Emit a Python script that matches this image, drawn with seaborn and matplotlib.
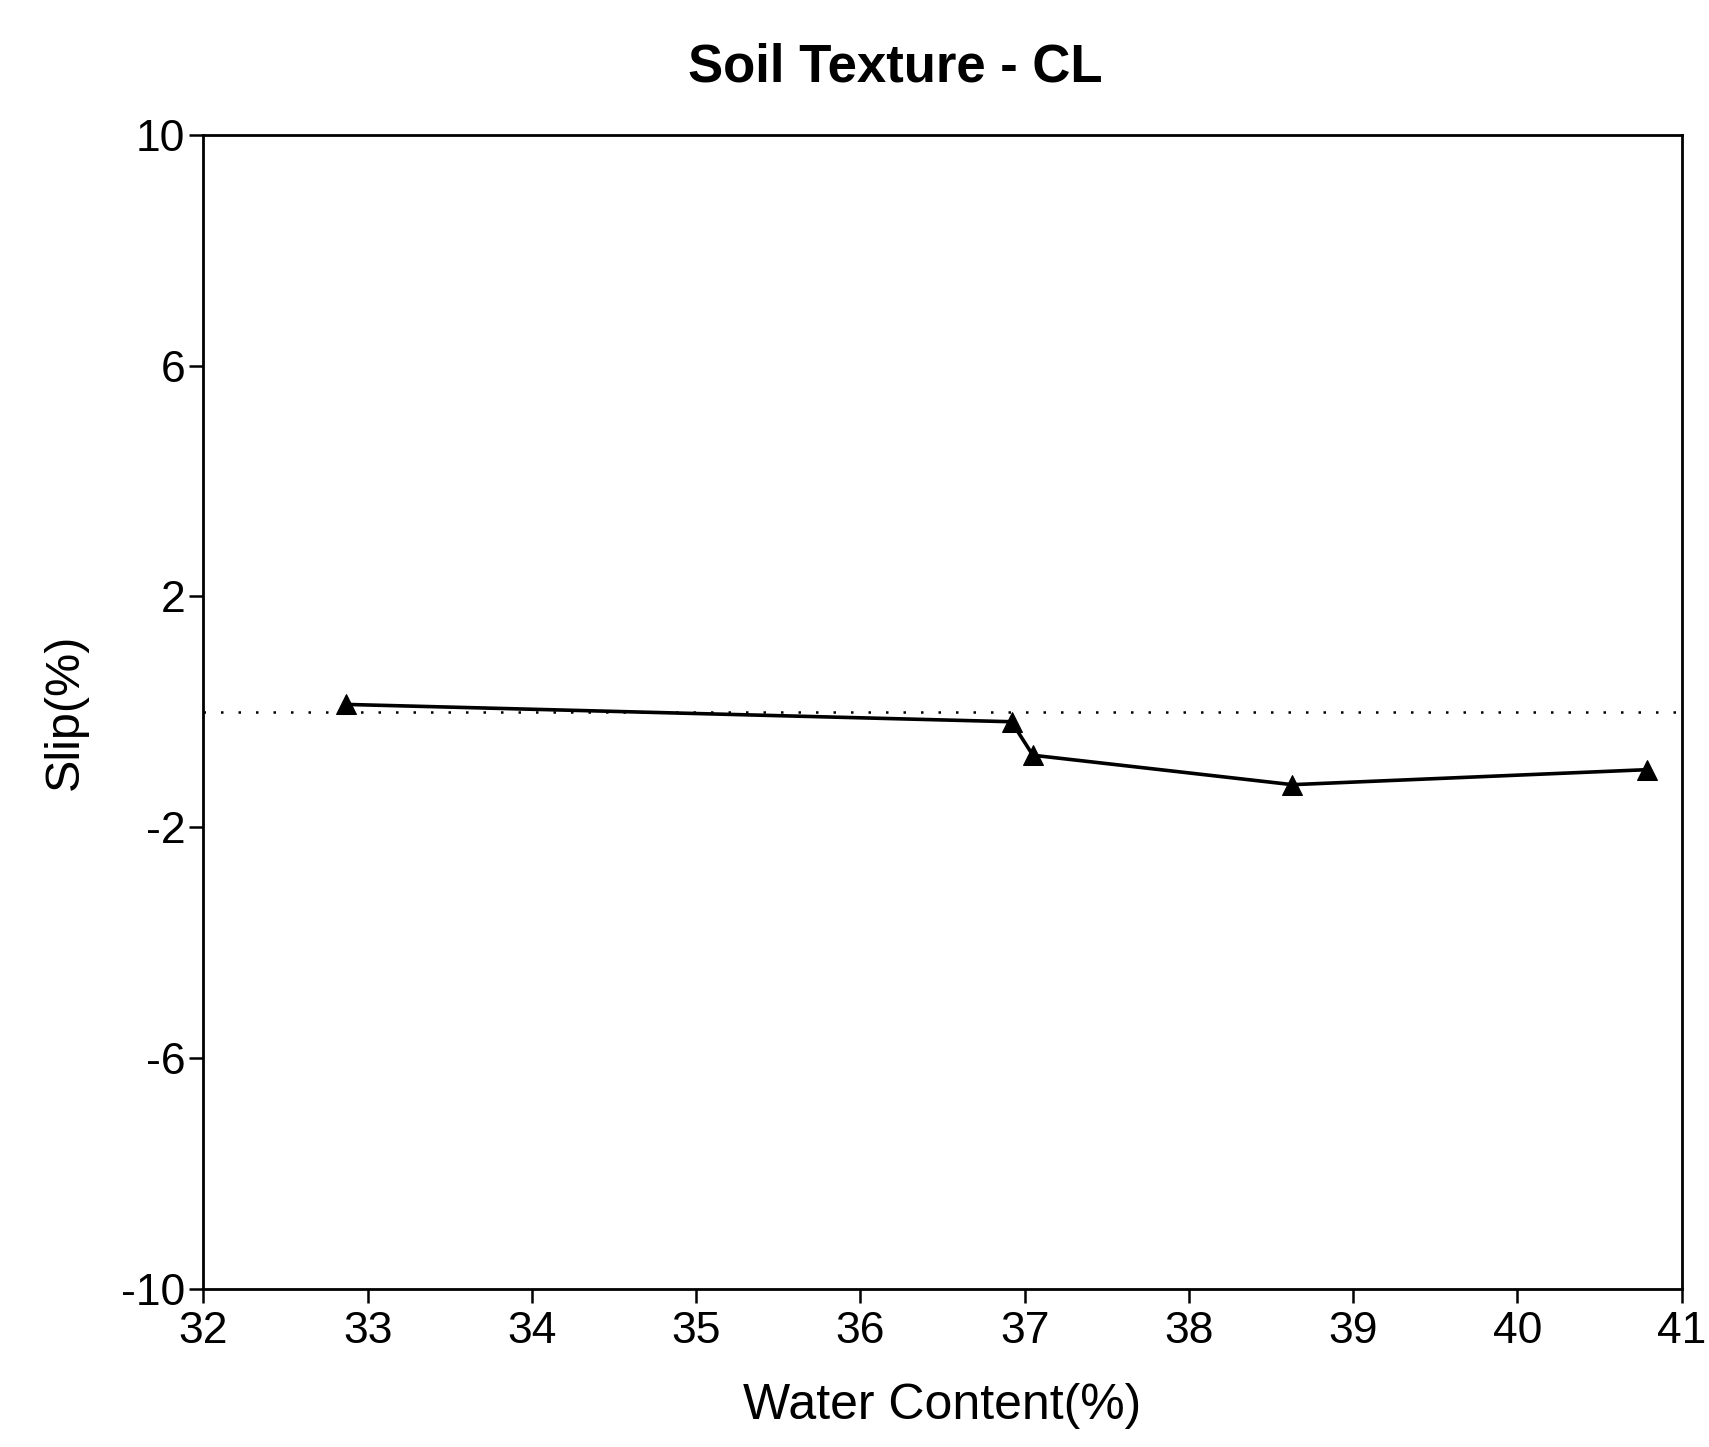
import numpy as np
import pandas as pd
import matplotlib
matplotlib.use('Agg')
import matplotlib.pyplot as plt
import seaborn as sns

# Values
water_content = [32.87, 36.92, 37.05, 38.63, 40.79]
slip = [0.13, -0.17, -0.75, -1.26, -1.0]

df = pd.DataFrame({'water': water_content, 'slip': slip})

sns.set_theme(style='white')
plt.rcParams['font.family'] = ['Liberation Sans', 'DejaVu Sans']
plt.rcParams['axes.unicode_minus'] = False

fig = plt.figure(figsize=(17.09, 14.47), dpi=100)
ax = fig.add_axes([0.119, 0.109, 0.865, 0.798])

# Dotted zero reference line
ax.axhline(0, color='black', linestyle=(0, (1, 6)), linewidth=1.8, zorder=1)

sns.lineplot(data=df, x='water', y='slip', ax=ax, color='black',
             linewidth=2.6, marker='^', markersize=14, markeredgecolor='black',
             sort=False, zorder=3)

ax.set_xlim(32, 41)
ax.set_ylim(-10, 10)
ax.set_xticks(range(32, 42))
ax.set_yticks([-10, -6, -2, 2, 6, 10])

for s in ax.spines.values():
    s.set_color('black')
    s.set_linewidth(2)

ax.tick_params(axis='both', direction='out', length=10, width=1.8,
               color='black', labelsize=32, labelcolor='black', pad=3,
               bottom=True, left=True)
ax.tick_params(axis='x', pad=6)

ax.set_xlabel('Water Content(%)', fontsize=36, color='black', labelpad=22)
ax.set_ylabel('Slip(%)', fontsize=35, color='black', labelpad=24)
ax.set_title('Soil Texture - CL', fontsize=38, fontweight='bold',
             color='black', pad=38, x=0.468)

fig.savefig('out.png', dpi=100, facecolor='white')
